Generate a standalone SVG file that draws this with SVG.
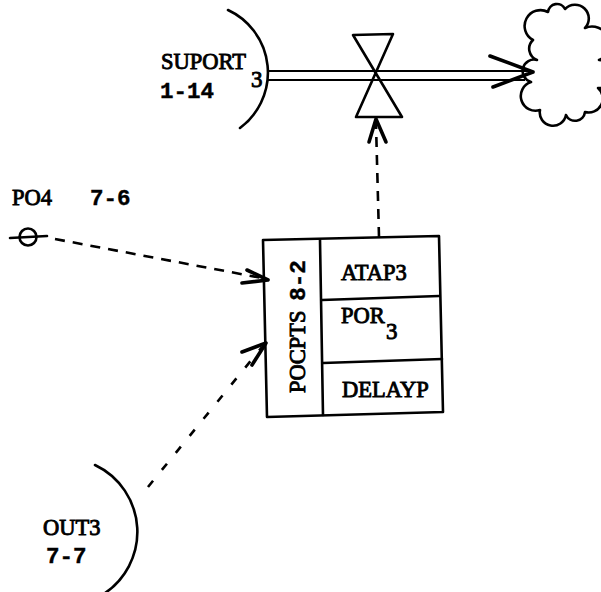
<svg xmlns="http://www.w3.org/2000/svg" width="601" height="592" viewBox="0 0 601 592">
<style>
.ln{fill:none;stroke:#000;stroke-width:2.6;stroke-linecap:round;stroke-linejoin:round}
.pipe{fill:none;stroke:#000;stroke-width:2.2}
.dash{fill:none;stroke:#000;stroke-width:2.6;stroke-dasharray:10 8}
.sparse{stroke-dasharray:8 14}
.head{fill:none;stroke:#000;stroke-width:3.6;stroke-linecap:round;stroke-linejoin:round}
.t{font-family:"Liberation Serif","DejaVu Serif",serif;font-size:22.5px;fill:#000;stroke:#000;stroke-width:0.9}
.m{font-family:"Liberation Mono","DejaVu Sans Mono",monospace;font-weight:bold;font-size:22.5px;fill:#000;stroke:#000;stroke-width:0.4}
.s{font-family:"Liberation Serif","DejaVu Serif",serif;font-size:23px;fill:#000;stroke:#000;stroke-width:0.9}
</style>
<g id="suport3">
  <path class="ln" d="M228,10 A69,69 0 0 1 240,128"/>
  <text class="t" x="161" y="69">SUPORT</text>
  <text class="s" x="251" y="87">3</text>
  <text class="m" x="160" y="98">1-14</text>
</g>
<g id="valve">
  <path class="ln" d="M353,35 L393,34 L356,117 L402,117 Z"/>
</g>
<g id="cloud">
  <path class="ln" d="M533,40 A10,10 0 0 1 548,12 A9,9 0 0 1 565,9 A12,12 0 0 1 585,28 A14,14 0 0 1 599,60 A10,10 0 0 1 598,88 A14,14 0 0 1 585,112 A10,10 0 0 1 566,115 A12,12 0 0 1 540,110 A12,12 0 0 1 531,82 A10,10 0 0 1 537,60 A12,12 0 0 1 533,40 Z"/>
</g>
<g id="po4">
  <text class="t" x="12" y="205">PO4</text>
  <text class="m" x="90" y="205">7-6</text>
  <circle class="ln" cx="28" cy="237" r="8.5"/>
  <path class="ln" d="M10,238 L47,236"/>
</g>
<g id="pocpts">
  <path class="ln" d="M263,240 L439,236 L443,412 L267,417 Z"/>
  <path class="ln" d="M320,240 L323,415 M322,300 L439,296 M323,363 L442,359"/>
  <text class="t" transform="translate(305,393) rotate(-90)">POCPTS <tspan class="m" dx="4">8-2</tspan></text>
  <text class="t" x="341" y="280">ATAP3</text>
  <text class="t" x="341" y="323">POR</text>
  <text class="s" x="386" y="339">3</text>
  <text class="t" x="342" y="397">DELAYP</text>
</g>
<g id="out3">
  <path class="ln" d="M95,465 A74,74 0 0 1 102,595"/>
  <text class="t" x="43" y="535">OUT3</text>
  <text class="m" x="46" y="563">7-7</text>
</g>
<g id="connectors">
  <path class="pipe" d="M268,71 H531 M268,80 H525"/>
  <path class="head" d="M490,56 L533,72 L493,87"/>
  <path class="dash" d="M379,237 L376,124"/>
  <path class="head" d="M369,142 L376,119 L386,142"/>
  <path class="dash" d="M55,239 L262,278"/>
  <path class="head" d="M247,270 L268,280 L242,283"/>
  <path class="dash sparse" d="M148,487 L262,347"/>
  <path class="head" d="M242,352 L266,343 L252,365"/>
</g>
</svg>
